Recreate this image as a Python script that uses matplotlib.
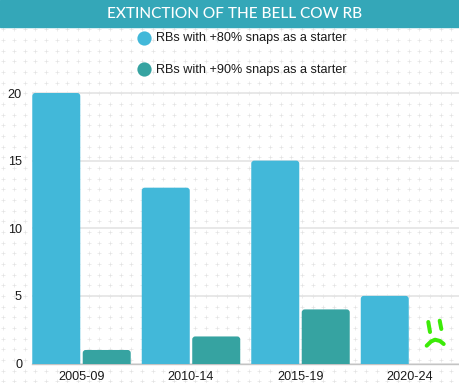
import numpy as np
import matplotlib
matplotlib.use('Agg')
import matplotlib.pyplot as plt
from matplotlib.patches import FancyBboxPatch, Rectangle

periods = ['2005-09', '2010-14', '2015-19', '2020-24']
rbs_80 = [20, 13, 15, 5]
rbs_90 = [1, 2, 4, 0]
y_ticks = [0, 5, 10, 15, 20]

label_80 = 'RBs with +80% snaps as a starter'
label_90 = 'RBs with +90% snaps as a starter'
title = 'EXTINCTION OF THE BELL COW RB'

blue = '#42B8D9'
teal = '#36A3A1'
banner = '#34A7B8'
green = '#3CEB08'

W, H = 459, 383
plt.rcParams['font.family'] = ['Liberation Sans', 'DejaVu Sans']

fig = plt.figure(figsize=(W/100, H/100), dpi=100, facecolor='white')

# fond en pixels : pointillés, bandeau, légende, smiley
bg = fig.add_axes([0, 0, 1, 1])
bg.set_xlim(0, W)
bg.set_ylim(H, 0)
bg.axis('off')

xx, yy = np.meshgrid(np.arange(3.3, W, 10.67), np.arange(29.3, H, 10.67))
bg.scatter(xx.ravel(), yy.ravel(), marker='+', s=5, linewidths=0.45, color='#e2e2e2', zorder=1)

bg.add_patch(Rectangle((0, 0), W, 27, color=banner, zorder=2))
bg.text(W/2 + 5, 14.5, title, color='white', ha='center', va='center',
        family='Lato', fontsize=11.1, fontweight='medium', zorder=3)

bg.scatter([143.5], [38], s=105, color=blue, linewidths=0, zorder=3)
bg.scatter([143.5], [69], s=105, color=teal, linewidths=0, zorder=3)
bg.text(156, 38, label_80, fontsize=9.1, color='#1a1a1a', va='center', zorder=3)
bg.text(156, 70, label_90, fontsize=9.1, color='#1a1a1a', va='center', zorder=3)

# smiley triste
for xs, ys in [([428.3, 430], [322, 332]), ([439.7, 441.3], [320.7, 329]),
               ([426.7, 431, 435, 440, 443.7], [345.7, 341.5, 339.7, 341, 344])]:
    bg.plot(xs, ys, color=green, lw=2.9, solid_capstyle='round', zorder=3)

# graphique
x0, x1 = 32, W
y_zero, y_20 = 363.5, 93
per_unit = (y_zero - y_20)/20
ymax = 20.3
ax = fig.add_axes([x0/W, (H - y_zero)/H, (x1 - x0)/W, ymax*per_unit/H])
ax.patch.set_alpha(0)
spacing = 109.5
ax.set_xlim((x0 - 81.5)/spacing, (x1 - 81.5)/spacing)
ax.set_ylim(0, ymax)

bar_w = 48/spacing
offset = 0.2305
radius = 3/spacing
aspect = spacing/per_unit


def rounded_bar(x, v, color):
    # le bas arrondi passe sous l'axe et se retrouve coupé
    if v <= 0:
        return
    ax.add_patch(FancyBboxPatch((x - bar_w/2, -1), bar_w, v + 1,
                                boxstyle=f'round,pad=0,rounding_size={radius}',
                                mutation_aspect=aspect, fc=color, ec='none', zorder=3))


for i in range(len(periods)):
    rounded_bar(i - offset, rbs_80[i], blue)
    rounded_bar(i + offset, rbs_90[i], teal)

ax.set_yticks(y_ticks)
ax.set_xticks(range(len(periods)))
ax.set_xticklabels(periods)
ax.yaxis.grid(True, color='#e4e4e4', lw=1.2, zorder=0)
ax.set_axisbelow(True)
ax.tick_params(length=0, labelsize=9.1, labelcolor='#1a1a1a')
ax.tick_params(axis='y', pad=7.2)
ax.tick_params(axis='x', pad=5.5)
for s in ['top', 'left', 'right']:
    ax.spines[s].set_visible(False)
ax.spines['bottom'].set_color('#c4c4c4')
ax.spines['bottom'].set_linewidth(1)

fig.savefig('out.png', dpi=100)
